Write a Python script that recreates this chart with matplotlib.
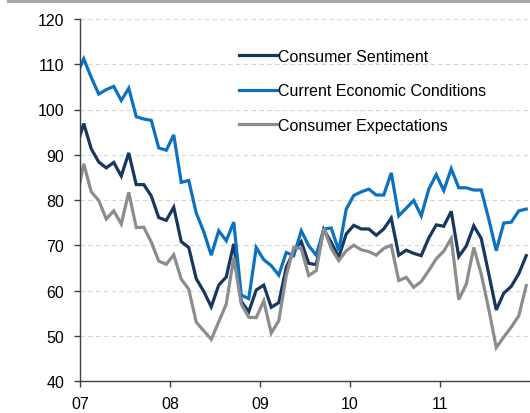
import numpy as np
import matplotlib
matplotlib.use("Agg")
import matplotlib.pyplot as plt
from matplotlib.lines import Line2D
from matplotlib.ticker import MultipleLocator

plt.rcParams['font.family'] = ['Liberation Sans', 'DejaVu Sans']

# monthly readings, Dec 2006 .. Dec 2011 (first point is clipped by the axis)
sentiment = [91.5,
             96.9, 91.3, 88.4, 87.1, 88.3, 85.3, 90.4, 83.4, 83.4, 80.9, 76.1, 75.5,
             78.4, 70.8, 69.5, 62.6, 59.8, 56.4, 61.2, 63.0, 70.3, 57.6, 55.3, 60.1,
             61.2, 56.3, 57.3, 65.1, 68.7, 70.8, 66.0, 65.7, 73.5, 70.6, 67.4, 72.5,
             74.4, 73.6, 73.6, 72.2, 73.6, 76.0, 67.8, 68.9, 68.2, 67.7, 71.6, 74.5,
             74.2, 77.5, 67.5, 69.8, 74.3, 71.5, 63.7, 55.7, 59.4, 60.9, 63.7, 67.7]
current = [107.4,
           111.2, 107.1, 103.4, 104.4, 105.1, 102.0, 104.7, 98.4, 97.9, 97.6, 91.5, 91.0,
           94.4, 83.9, 84.3, 77.1, 73.0, 67.8, 73.2, 71.0, 75.1, 59.0, 58.2, 69.5,
           66.8, 65.5, 63.4, 68.4, 67.7, 73.2, 69.9, 67.8, 73.6, 73.8, 68.8, 78.0,
           81.0, 81.8, 82.4, 81.1, 81.1, 86.0, 76.5, 78.2, 79.9, 76.5, 82.4, 85.6,
           82.1, 86.9, 82.7, 82.7, 82.2, 82.2, 75.8, 68.8, 74.9, 75.1, 77.6, 78.0]
expectations = [80.0,
                88.0, 81.8, 79.9, 75.8, 77.6, 74.7, 81.7, 73.9, 74.0, 70.7, 66.5, 65.8,
                67.9, 62.5, 60.3, 53.0, 51.1, 49.2, 53.1, 57.0, 67.3, 57.0, 54.1, 54.0,
                57.7, 50.6, 53.3, 63.3, 69.5, 69.3, 63.3, 64.4, 73.8, 69.3, 66.6, 68.8,
                70.0, 69.0, 68.6, 67.8, 69.3, 70.0, 62.2, 62.9, 60.7, 62.0, 64.4, 67.0,
                68.7, 71.5, 58.0, 61.4, 69.5, 63.6, 55.9, 47.4, 49.7, 51.9, 54.4, 61.1]
labels = ["Consumer Sentiment", "Current Economic Conditions", "Consumer Expectations"]
years = [2007, 2008, 2009, 2010, 2011]
year_labels = ["07", "08", "09", "10", "11"]

colors = ["#17375e", "#0a72c0", "#8c8c8c"]

# months placed at mid-month, starting Dec 2006
x = 2007 + (np.arange(-1, len(sentiment) - 1) + 0.5) / 12.0

fig = plt.figure(figsize=(5.30, 4.14), dpi=100)
ax = fig.add_axes([80 / 530, 32 / 414, 450 / 530, 362 / 414])

for series, c, lab in zip([sentiment, current, expectations], colors, labels):
    ax.plot(x, series, color=c, lw=2.3, label=lab, solid_joinstyle='miter')

ax.set_xlim(2007, 2012)
ax.set_ylim(40, 120)
ax.yaxis.set_major_locator(MultipleLocator(10))
ax.set_xticks(years)
ax.set_xticklabels(year_labels)

ax.grid(axis='y', color='#d6d6d6', ls=(0, (4, 3)), lw=0.8)
ax.set_axisbelow(True)
for s in ['top', 'right']:
    ax.spines[s].set_visible(False)
for s in ['left', 'bottom']:
    ax.spines[s].set_color('#404040')
    ax.spines[s].set_linewidth(1.0)
ax.tick_params(axis='y', length=4.5, width=1.0, color='#404040', pad=7, labelsize=11.5)
ax.tick_params(axis='x', length=4.5, width=1.0, color='#404040', pad=6, labelsize=11.5)

leg = ax.legend(loc='upper left', bbox_to_anchor=((239 - 80) / 450, (382 - 50) / 362),
                frameon=False, fontsize=11.5, handlelength=2.4, handletextpad=0.05,
                labelspacing=1.22, borderpad=0, borderaxespad=0)

# grey rule across the top of the figure
fig.add_artist(Line2D([9 / 530, 1.0], [0.995, 0.995], color='#a6a6a6', lw=3))

plt.savefig("out.png", dpi=100)
